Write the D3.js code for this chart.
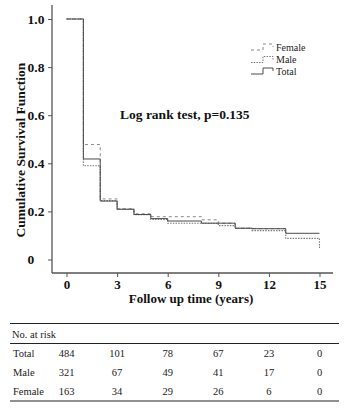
<!DOCTYPE html>
<html><head><meta charset="utf-8">
<script src="https://cdn.jsdelivr.net/npm/d3@7"></script>
<style>
body{margin:0;background:#fff;}
svg{display:block;}
</style></head>
<body>
<svg id="c" width="353" height="413"></svg>
<script>
// ---- data ----
const totalTimes = [0, 1, 2, 3, 4, 5, 6, 8, 10, 11, 13, 15];
const totalSurv  = [1.0, 0.418, 0.243, 0.209, 0.187, 0.170, 0.160, 0.151, 0.130, 0.128, 0.109, 0.109];
const maleTimes  = [0, 1, 2, 3, 4, 5, 6, 9, 10, 11, 13, 15, 15];
const maleSurv   = [1.0, 0.390, 0.245, 0.209, 0.186, 0.167, 0.151, 0.141, 0.130, 0.120, 0.088, 0.088, 0.047];
const femaleTimes = [0, 1, 2, 3, 4, 5, 8, 9, 10, 11, 13];
const femaleSurv  = [1.0, 0.478, 0.252, 0.211, 0.190, 0.178, 0.165, 0.151, 0.130, 0.128, 0.128];
const xTicks = [0, 3, 6, 9, 12, 15];
const yTicks = [0, 0.2, 0.4, 0.6, 0.8, 1.0];
const riskGroups = ["Total", "Male", "Female"];
const riskTotal  = [484, 101, 78, 67, 23, 0];
const riskMale   = [321, 67, 49, 41, 17, 0];
const riskFemale = [163, 34, 29, 26, 6, 0];
const legendLabels = ["Female", "Male", "Total"];

// ---- drawing ----
const svg = d3.select("#c");
const serif = "'Liberation Serif', 'Times New Roman', serif";
const x = d3.scaleLinear().domain([0, 15]).range([66.5, 319.5]);
const y = d3.scaleLinear().domain([0, 1]).range([259.5, 19]);
const axisColor = "#555";

// frame axes lines
svg.append("line").attr("x1", 52).attr("x2", 52).attr("y1", 5).attr("y2", 273)
  .attr("stroke", axisColor).attr("stroke-width", 1.3);
svg.append("line").attr("x1", 52).attr("x2", 333).attr("y1", 273).attr("y2", 273)
  .attr("stroke", axisColor).attr("stroke-width", 1.3);

// y axis
const gy = svg.append("g").attr("transform", "translate(52,0)")
  .call(d3.axisLeft(y).tickValues(yTicks).tickSize(4).tickSizeOuter(0)
    .tickFormat(d => d === 0 ? "0" : d3.format(".1f")(d)));
gy.select(".domain").remove();
gy.selectAll(".tick line").attr("stroke", axisColor).attr("stroke-width", 1);
gy.selectAll(".tick text").attr("font-family", serif).attr("font-weight", "bold")
  .attr("font-size", 13.5).attr("fill", "#111").attr("text-anchor", "start").attr("x", -24.5);

// x axis
const gx = svg.append("g").attr("transform", "translate(0,273)")
  .call(d3.axisBottom(x).tickValues(xTicks).tickSize(4).tickSizeOuter(0));
gx.select(".domain").remove();
gx.selectAll(".tick line").attr("stroke", axisColor).attr("stroke-width", 1);
gx.selectAll(".tick text").attr("font-family", serif).attr("font-weight", "bold")
  .attr("font-size", 13).attr("fill", "#111").attr("y", 6.5);

// axis titles
svg.append("text").attr("x", 191).attr("y", 303).attr("text-anchor", "middle")
  .attr("font-family", serif).attr("font-weight", "bold").attr("font-size", 13)
  .attr("fill", "#111").text("Follow up time (years)");
svg.append("text").attr("transform", "translate(24.5,150) rotate(-90)").attr("text-anchor", "middle")
  .attr("font-family", serif).attr("font-weight", "bold").attr("font-size", 13.5)
  .attr("fill", "#111").text("Cumulative Survival Function");

// survival curves
const line = d3.line().x(d => x(d[0])).y(d => y(d[1])).curve(d3.curveStepAfter);
const series = [
  {t: femaleTimes, s: femaleSurv, stroke: "#8a8a8a", dash: "3,3", w: 1},
  {t: maleTimes, s: maleSurv, stroke: "#7a7a7a", dash: "1.5,1.2", w: 1.1},
  {t: totalTimes, s: totalSurv, stroke: "#4a4a4a", dash: null, w: 1}
];
series.forEach(se => {
  const pts = se.t.map((t, i) => [t, se.s[i]]);
  svg.append("path").attr("d", line(pts)).attr("fill", "none")
    .attr("stroke", se.stroke).attr("stroke-width", se.w)
    .attr("stroke-dasharray", se.dash);
});

// annotation
svg.append("text").attr("x", 120).attr("y", 119).attr("font-family", serif)
  .attr("font-weight", "bold").attr("font-size", 13.5).attr("fill", "#111")
  .text("Log rank test, p=0.135");

// legend
const legStyles = [series[0], series[1], series[2]];
const legY = [47, 59.5, 71];
legendLabels.forEach((lab, i) => {
  const yy = legY[i];
  svg.append("path")
    .attr("d", `M251,${yy + 3}H263V${yy - 3}H273V${yy}`)
    .attr("fill", "none").attr("stroke", legStyles[i].stroke)
    .attr("stroke-width", 1).attr("stroke-dasharray", legStyles[i].dash);
  svg.append("text").attr("x", 276).attr("y", yy + 3.5).attr("font-family", serif)
    .attr("font-size", 10).attr("fill", "#222").text(lab);
});

// risk table
const tbl = svg.append("g");
[323.5, 343.5, 401].forEach(yy => {
  tbl.append("line").attr("x1", 10).attr("x2", 339).attr("y1", yy).attr("y2", yy)
    .attr("stroke", "#222").attr("stroke-width", 1);
});
tbl.append("text").attr("x", 12).attr("y", 337.5).attr("font-family", serif)
  .attr("font-size", 10.5).attr("fill", "#222").text("No. at risk");
const rows = [riskTotal, riskMale, riskFemale];
const rowY = [357, 376, 395];
rows.forEach((vals, r) => {
  tbl.append("text").attr("x", 13).attr("y", rowY[r]).attr("font-family", serif)
    .attr("font-size", 10.5).attr("fill", "#222").text(riskGroups[r]);
  vals.forEach((v, i) => {
    tbl.append("text").attr("x", x(xTicks[i])).attr("y", rowY[r])
      .attr("text-anchor", "middle").attr("font-family", serif)
      .attr("font-size", 10.5).attr("fill", "#222").text(v);
  });
});
</script>
</body></html>
